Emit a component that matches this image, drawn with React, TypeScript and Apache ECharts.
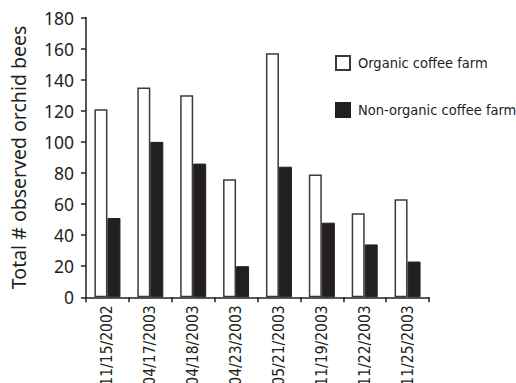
import React, { useEffect, useRef } from "react";
import * as echarts from "echarts";

const categories = [
  "11/15/2002",
  "04/17/2003",
  "04/18/2003",
  "04/23/2003",
  "05/21/2003",
  "11/19/2003",
  "11/22/2003",
  "11/25/2003",
];
const organic = [121, 135, 130, 76, 157, 79, 54, 63];
const nonOrganic = [51, 100, 86, 20, 84, 48, 34, 23];
const seriesNames = ["Organic coffee farm", "Non-organic coffee farm"];
const yTitle = "Total # observed orchid bees";

const INK = "#231f20";
const NARROW = "'Liberation Sans Narrow', 'DejaVu Sans Condensed', sans-serif";

export default function App() {
  const ref = useRef<HTMLDivElement>(null);
  useEffect(() => {
    document.body.style.margin = "0";
    if (!ref.current) return;
    const chart = echarts.init(ref.current, undefined, { renderer: "svg" });
    chart.setOption({
      animation: false,
      backgroundColor: "#ffffff",
      grid: {
        left: 86,
        right: 87,
        top: 17.5,
        bottom: 85.7,
        containLabel: false,
        outerBoundsMode: "none",
      },
      legend: {
        orient: "vertical",
        left: 330,
        top: 50,
        itemWidth: 14,
        itemHeight: 14,
        itemGap: 31,
        icon: "rect",
        textStyle: {
          fontFamily: NARROW,
          fontSize: 14.5,
          color: INK,
          padding: [0, 0, 0, 3],
        },
        data: seriesNames,
      },
      xAxis: {
        type: "category",
        data: categories,
        axisLine: { lineStyle: { color: INK, width: 1.5 } },
        axisTick: { show: true, length: 5, alignWithLabel: false, lineStyle: { color: INK, width: 1.5 } },
        axisLabel: {
          rotate: 90,
          interval: 0,
          margin: 8,
          fontFamily: NARROW,
          fontSize: 15.5,
          color: INK,
        },
      },
      yAxis: {
        type: "value",
        min: 0,
        max: 180,
        interval: 20,
        name: yTitle,
        nameLocation: "middle",
        nameGap: 58,
        nameTextStyle: { fontFamily: "'Noto Sans', sans-serif", fontSize: 19.5, color: INK },
        axisLine: { show: true, lineStyle: { color: INK, width: 1.5 } },
        axisTick: { show: true, length: 5, lineStyle: { color: INK, width: 1.5 } },
        axisLabel: { margin: 12, fontFamily: "'Noto Sans', sans-serif", fontSize: 17.5, color: INK },
        splitLine: { show: false },
      },
      series: [
        {
          name: seriesNames[0],
          type: "bar",
          data: organic,
          barWidth: 13,
          barGap: "0%",
          itemStyle: { color: "#ffffff", borderColor: "#3a3a3a", borderWidth: 1.5 },
        },
        {
          name: seriesNames[1],
          type: "bar",
          data: nonOrganic,
          barWidth: 13,
          barGap: "0%",
          itemStyle: { color: INK, borderColor: INK, borderWidth: 1 },
        },
      ],
    });
    return () => chart.dispose();
  }, []);
  return <div ref={ref} style={{ width: 516, height: 383 }} />;
}
